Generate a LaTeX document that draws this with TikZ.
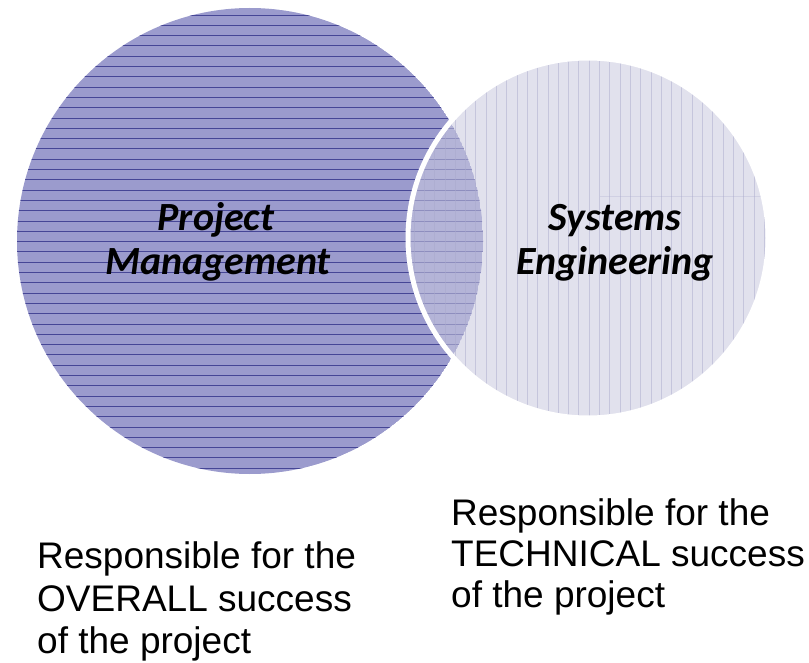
\documentclass[tikz,border=0pt]{standalone}
\usepackage{fontspec}
\setmainfont{Liberation Sans}
\newfontfamily\calfont{Carlito}
\definecolor{pmfill}{RGB}{155,155,205}
\definecolor{pmline}{RGB}{70,70,150}
\definecolor{sefill}{RGB}{202,202,224}
\definecolor{seline}{RGB}{170,170,205}
\tikzset{
  circtext/.style={anchor=base, inner sep=0pt, font=\calfont\bfseries\itshape\fontsize{40}{44}\selectfont},
  bodytext/.style={anchor=base west, inner sep=0pt, font=\fontsize{37}{42}\selectfont},
  pmhatch/.style={draw=pmline, line width=0.9pt},
  sehatch/.style={draw=seline, line width=0.8pt, opacity=0.5},
}
\begin{document}
\begin{tikzpicture}[x=1pt,y=-1pt]
\useasboundingbox (0,0) rectangle (809,663);
\fill[white] (0,0) rectangle (809,663);
% left circle
\coordinate (pmc) at (250,241);
\coordinate (sec) at (588,238);
\begin{scope}
  \clip (pmc) circle[radius=233pt];
  \fill[pmfill] (pmc) circle[radius=233pt];
  \foreach \y in {15,25.3,...,480} \draw[pmhatch] (10,\y) -- (490,\y);
\end{scope}
% right circle
\fill[sefill, opacity=0.55] (sec) circle[radius=180pt];
\begin{scope}
  \clip (sec) circle[radius=180pt];
  \foreach \x in {414,424.3,...,770} \draw[sehatch] (\x,50) -- (\x,425);
  \draw[sehatch, opacity=0.3] (600,196) -- (780,196);
\end{scope}
\draw[white, line width=5pt] (sec) circle[radius=180pt];
% circle labels
\node[circtext] (pm1) at (216,231) {Project};
\node[circtext] (pm2) at (218,275) {Management};
\node[circtext] (se1) at (615,231) {Systems};
\node[circtext] (se2) at (615,275) {Engineering};
% bottom texts
\node[bodytext] (l1) at (37,568) {Responsible for the};
\node[bodytext] (l2) at (37,611) {OVERALL success};
\node[bodytext] (l3) at (37,653) {of the project};
\node[bodytext] (r1) at (451,525) {Responsible for the};
\node[bodytext] (r2) at (451,566) {TECHNICAL success};
\node[bodytext] (r3) at (451,607) {of the project};
\end{tikzpicture}
\end{document}
